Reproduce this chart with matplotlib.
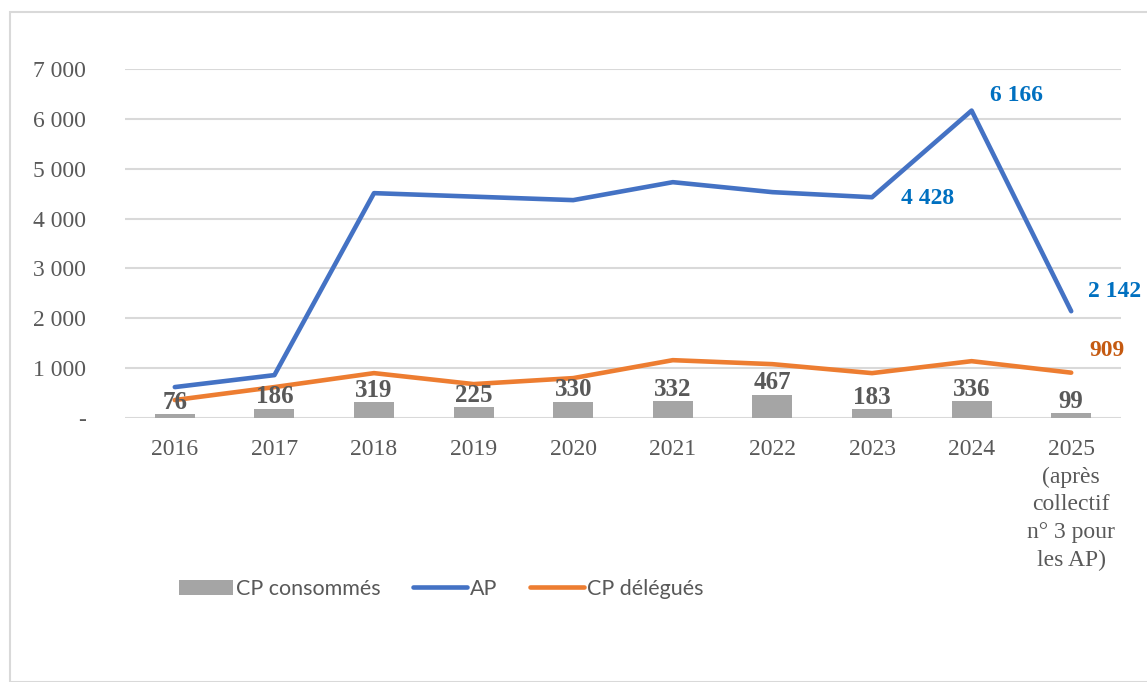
import matplotlib.pyplot as plt
from matplotlib.patches import Rectangle
import numpy as np

annees = ["2016", "2017", "2018", "2019", "2020", "2021", "2022", "2023", "2024",
          "2025\n(après\ncollectif\nn° 3 pour\nles AP)"]
cp_consommes = [76, 186, 319, 225, 330, 332, 467, 183, 336, 99]
ap = [620, 860, 4510, 4440, 4370, 4730, 4530, 4428, 6166, 2142]
cp_delegues = [360, 620, 900, 680, 800, 1160, 1080, 900, 1140, 909]

gris_txt = "#595959"
serif = ["Liberation Serif", "DejaVu Serif"]

fig = plt.figure(figsize=(11.47, 6.82), dpi=100)
fig.patches.append(Rectangle((10 / 1147, 0), 1.2, 1 - 12 / 682, transform=fig.transFigure,
                             fill=False, edgecolor="#d9d9d9", linewidth=1.5))
ax = fig.add_axes([125 / 1147, 1 - 418 / 682, (1121 - 125) / 1147, (418 - 69) / 682])

x = np.arange(len(annees))
barres = ax.bar(x, cp_consommes, width=0.4, color="#a5a5a5", label="CP consommés", zorder=2)
l_ap, = ax.plot(x, ap, color="#4472c4", lw=3.3, label="AP", zorder=3,
                solid_capstyle="round")
l_cp, = ax.plot(x, cp_delegues, color="#ed7d31", lw=3.3, label="CP délégués", zorder=3,
                solid_capstyle="round")

ax.set_xlim(-0.5, len(annees) - 0.5)
ax.set_ylim(0, 7000)
ax.set_yticks(range(0, 7001, 1000))
ax.set_yticklabels(["-"] + [f"{v // 1000} 000" for v in range(1000, 7001, 1000)])
ax.set_xticks(x)
ax.set_xticklabels(annees, linespacing=1.41, va="top")
for lab in ax.get_xticklabels() + ax.get_yticklabels():
    lab.set_family(serif)
    lab.set_fontsize(17)
    lab.set_color(gris_txt)
ax.tick_params(length=0)
ax.tick_params(axis="y", pad=28)
ax.tick_params(axis="x", pad=15)
for s in ax.spines.values():
    s.set_visible(False)
ax.grid(axis="y", color="#d9d9d9", lw=1.5, zorder=0)
ax.set_axisbelow(True)

# valeurs des CP consommés au-dessus des barres
for xi, v in zip(x, cp_consommes):
    ax.text(xi, v + 5, str(v), ha="center", va="bottom", family=serif, fontsize=18,
            fontweight="bold", color=gris_txt, zorder=4)

def fr(v):
    return f"{v:,}".replace(",", " ")

etiquettes = [
    (fr(ap[8]), x[8], ap[8], 32, 11, "#0070c0"),
    (fr(ap[7]), x[7], ap[7], 40, -1, "#0070c0"),
    (fr(ap[9]), x[9], ap[9], 31, 14, "#0070c0"),
    (fr(cp_delegues[9]), x[9], cp_delegues[9], 26, 16, "#c55a11"),
]
for txt, xi, yi, dx, dy, c in etiquettes:
    ax.annotate(txt, (xi, yi), xytext=(dx, dy), textcoords="offset points",
                ha="center", va="center", family=serif, fontsize=17,
                fontweight="bold", color=c)

leg = fig.legend([barres, l_ap, l_cp], ["CP consommés", "AP", "CP délégués"],
                 loc="center left", bbox_to_anchor=(160 / 1147, 1 - 589 / 682), ncol=3,
                 frameon=False, prop={"family": "Lato", "size": 15.5},
                 handlelength=2.5, handletextpad=0.15, columnspacing=1.5)
for t in leg.get_texts():
    t.set_color(gris_txt)

fig.savefig("out.png", dpi=100)
